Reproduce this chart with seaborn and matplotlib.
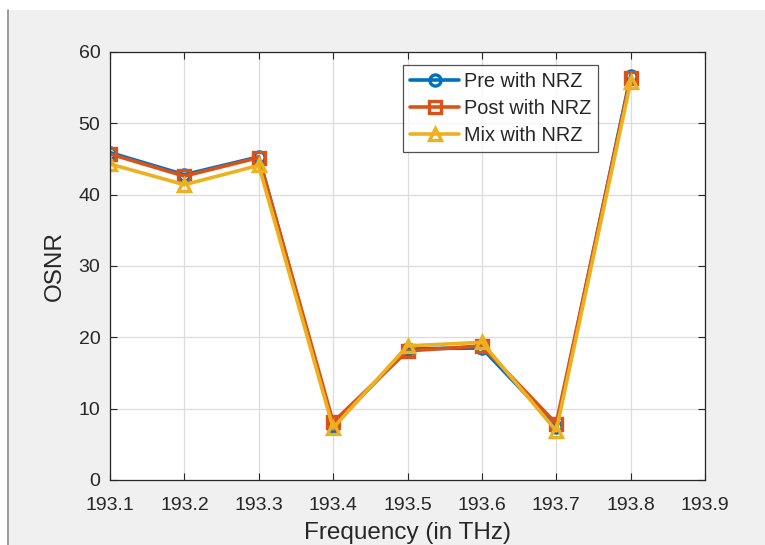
import matplotlib
matplotlib.use("Agg")
import matplotlib.pyplot as plt
import seaborn as sns
import numpy as np
from matplotlib.patches import Rectangle
from matplotlib.lines import Line2D

freq = [193.1, 193.2, 193.3, 193.4, 193.5, 193.6, 193.7, 193.8]
pre = [45.9, 42.8, 45.3, 7.6, 18.4, 18.5, 7.5, 56.7]
post = [45.7, 42.6, 45.2, 8.1, 18.1, 18.8, 7.9, 56.4]
mix = [44.3, 41.4, 44.1, 7.3, 18.8, 19.3, 6.9, 55.8]
series_names = ["Pre with NRZ", "Post with NRZ", "Mix with NRZ"]
x_ticks = [193.1, 193.2, 193.3, 193.4, 193.5, 193.6, 193.7, 193.8, 193.9]
y_ticks = [0, 10, 20, 30, 40, 50, 60]

sns.set_theme(style="white")
plt.rcParams['font.family'] = ['Liberation Sans', 'DejaVu Sans']

W, H = 765, 545
fig = plt.figure(figsize=(W / 100, H / 100), dpi=100, facecolor="white")
# grey MATLAB figure background
fig.patches.append(Rectangle((8 / W, 0), 1 - 8 / W, 1 - 10 / H, transform=fig.transFigure,
                             facecolor="#f0f0f0", edgecolor="none", zorder=-10))
fig.lines.append(Line2D([7.5 / W, 7.5 / W], [0, 1 - 10 / H], transform=fig.transFigure,
                        color="#8a8a8a", linewidth=1.2))

L, R, T, B = 110, 705, 52, 480
ax = fig.add_axes([L / W, 1 - B / H, (R - L) / W, (B - T) / H])
ax.set_facecolor("white")

colors = ["#0072BD", "#D95319", "#EDB120"]
markers = ["o", "s", "^"]
for vals, name, c, m in zip([pre, post, mix], series_names, colors, markers):
    sns.lineplot(x=freq, y=vals, ax=ax, color=c, linewidth=2.6, marker=m,
                 markersize=8, markerfacecolor="none", markeredgecolor=c,
                 markeredgewidth=2.4, label=name)

ax.set_xlim(193.1, 193.9)
ax.set_ylim(0, 60)
ax.set_xticks(x_ticks)
ax.set_xticklabels([f"{v:.1f}" for v in x_ticks])
ax.set_yticks(y_ticks)
ax.grid(True, color="#dcdcdc", linewidth=0.9)
ax.set_axisbelow(True)
ax.tick_params(direction="in", length=5, width=0.8, colors="#262626",
               labelsize=14, top=True, right=True, bottom=True, left=True)
ax.tick_params(axis="x", pad=12)
ax.tick_params(axis="y", pad=7)
for s in ax.spines.values():
    s.set_color("#262626")
    s.set_linewidth(0.9)
ax.set_xlabel("Frequency (in THz)", fontsize=17.5, color="#262626", labelpad=6)
ax.set_ylabel("OSNR", fontsize=17.5, color="#262626", labelpad=9)

leg = ax.legend(loc="upper right", bbox_to_anchor=((598 - L) / (R - L), (B - 65) / (B - T)),
                frameon=True, fancybox=False, edgecolor="#262626", fontsize=14.3,
                handlelength=2.45, borderpad=0.35, labelspacing=0.4, handletextpad=0.25,
                borderaxespad=0)
leg.get_frame().set_linewidth(0.9)
for t in leg.get_texts():
    t.set_color("#262626")

fig.savefig("out.png", dpi=100, facecolor=fig.get_facecolor())
